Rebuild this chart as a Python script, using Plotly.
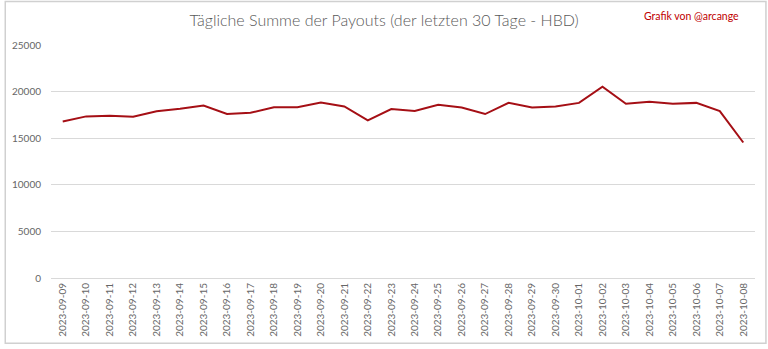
import plotly.graph_objects as go

# Daily payout totals (HBD), last 30 days
dates = [
    "2023-09-09", "2023-09-10", "2023-09-11", "2023-09-12", "2023-09-13",
    "2023-09-14", "2023-09-15", "2023-09-16", "2023-09-17", "2023-09-18",
    "2023-09-19", "2023-09-20", "2023-09-21", "2023-09-22", "2023-09-23",
    "2023-09-24", "2023-09-25", "2023-09-26", "2023-09-27", "2023-09-28",
    "2023-09-29", "2023-09-30", "2023-10-01", "2023-10-02", "2023-10-03",
    "2023-10-04", "2023-10-05", "2023-10-06", "2023-10-07", "2023-10-08",
]
payouts = [
    16800, 17340, 17410, 17300, 17900,
    18160, 18510, 17590, 17730, 18330,
    18330, 18830, 18400, 16910, 18120,
    17910, 18580, 18300, 17590, 18790,
    18300, 18400, 18790, 20530, 18690,
    18900, 18690, 18790, 17910, 14540,
]
y_ticks = [0, 5000, 10000, 15000, 20000, 25000]

title_text = "Tägliche Summe der Payouts (der letzten 30 Tage - HBD)"
credit_text = "Grafik von @arcange"

W, H = 768, 349
ML, MR, MT, MB = 47, 13, 45, 68
pw, ph = W - ML - MR, H - MT - MB

fig = go.Figure()
fig.add_trace(go.Scatter(
    x=dates, y=payouts, mode="lines",
    line=dict(color="#A50F15", width=2),
    hoverinfo="x+y",
))

font_family = "Lato, Carlito, Calibri, sans-serif"

fig.update_layout(
    width=W, height=H,
    margin=dict(l=ML, r=MR, t=MT, b=MB),
    paper_bgcolor="white", plot_bgcolor="white",
    showlegend=False,
    font=dict(family=font_family, color="#595959"),
    title=dict(
        text=title_text, x=(382 - ML) / pw, xanchor="center", xref="paper",
        y=1 - 20 / H, yanchor="middle",
        font=dict(size=16, color="#595959", family=font_family, weight=300),
    ),
    xaxis=dict(
        type="category", range=[-0.5, len(dates) - 0.5],
        tickangle=-90, tickfont=dict(size=10, color="#666666"),
        showgrid=False, showline=True, linecolor="#d9d9d9", linewidth=1,
        ticks="", zeroline=False,
    ),
    yaxis=dict(
        range=[0, 25000], tickvals=y_ticks,
        ticktext=[str(v) for v in y_ticks],
        tickfont=dict(size=10, color="#666666"),
        showgrid=True, gridcolor="#d9d9d9", gridwidth=1,
        zeroline=False, showline=False, ticks="", ticklabelstandoff=9,
    ),
)

fig.add_annotation(
    text=credit_text, xref="paper", yref="paper",
    x=(741 - ML) / pw, y=1 + (MT - 16) / ph,
    xanchor="right", yanchor="middle", showarrow=False,
    font=dict(size=10.5, color="#C00000", family=font_family),
)

# light frame around the whole chart
fig.add_shape(
    type="rect", xref="paper", yref="paper",
    x0=(1 - ML) / pw, x1=(W - 2 - ML) / pw,
    y0=-(MB - 2) / ph, y1=1 + (MT - 1) / ph,
    line=dict(color="#d0d0d0", width=1.5), fillcolor="rgba(0,0,0,0)",
    layer="below",
)

fig.write_html("out.html")
